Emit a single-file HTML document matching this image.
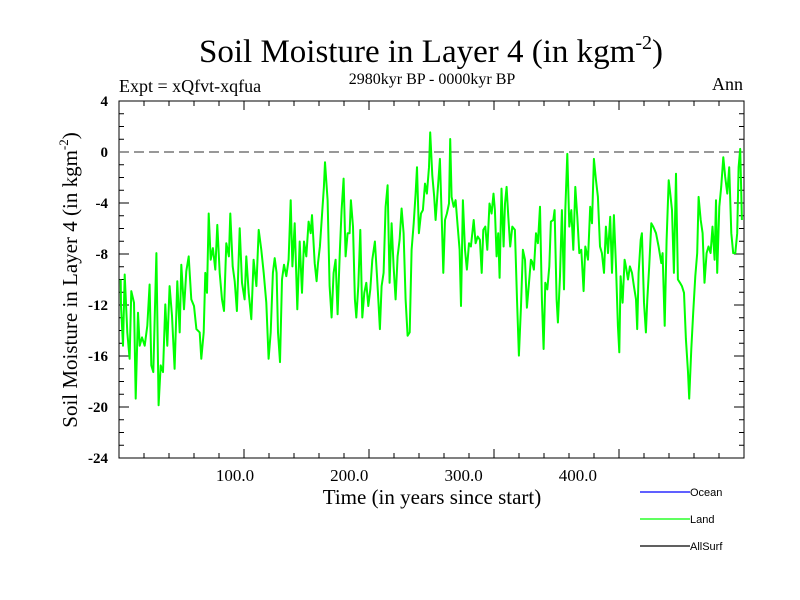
<!DOCTYPE html>
<html><head><meta charset="utf-8"><style>
html,body{margin:0;padding:0;background:#fff;}
svg{display:block;}
text{font-family:"Liberation Serif",serif;fill:#000;}
</style></head><body>
<svg id="chart" width="800" height="600" viewBox="0 0 800 600" xmlns="http://www.w3.org/2000/svg">
<rect x="0" y="0" width="800" height="600" fill="#fff"/>
<text x="431" y="62" font-size="33" text-anchor="middle">Soil Moisture in Layer 4 (in kgm<tspan font-size="20" dy="-13">-2</tspan><tspan dy="13">)</tspan></text>
<text x="119" y="92" font-size="18">Expt = xQfvt-xqfua</text>
<text x="432" y="84" font-size="16" text-anchor="middle">2980kyr BP - 0000kyr BP</text>
<text x="743" y="90" font-size="18" text-anchor="end">Ann</text>
<text transform="translate(77,280) rotate(-90)" font-size="21" text-anchor="middle">Soil Moisture in Layer 4 (in kgm<tspan font-size="13" dy="-9">-2</tspan><tspan dy="9">)</tspan></text>
<text x="432" y="504" font-size="21" text-anchor="middle">Time (in years since start)</text>
<g id="axes"></g>
<g id="series"></g>
<g>
<line x1="640" y1="492" x2="690" y2="492" stroke="#0000ff" stroke-width="1.3"/>
<text x="690" y="496" font-size="11" style="font-family:'Liberation Sans',sans-serif">Ocean</text>
<line x1="640" y1="519" x2="690" y2="519" stroke="#00ff00" stroke-width="1.3"/>
<text x="690" y="523" font-size="11" style="font-family:'Liberation Sans',sans-serif">Land</text>
<line x1="640" y1="546" x2="690" y2="546" stroke="#000" stroke-width="1.3"/>
<text x="690" y="550" font-size="11" style="font-family:'Liberation Sans',sans-serif">AllSurf</text>
</g>
</svg>
<script>
const yTickValues = [4, 0, -4, -8, -12, -16, -20, -24];
const xTickValues = [100, 200, 300, 400];
const xTickLabels = ["100.0", "200.0", "300.0", "400.0"];
const years = [0,0.3,2.0,3.5,5.8,7.8,9.3,11.6,13.1,15.1,16.6,18.6,21.0,23.3,25.3,26.8,28.5,31.2,33.2,35.0,37.0,39.0,40.8,42.8,44.9,47.2,49.5,51.6,53.0,55.4,57.4,59.5,61.8,64.1,66.2,69.1,70.5,72.6,74.0,75.5,77.0,78.7,80.7,82.8,84.5,86.6,88.6,90.4,92.4,94.7,95.9,98.0,99.7,101.7,104.1,106.1,108.4,109.9,112.0,114.3,116.3,118.7,120.7,123.0,125.1,127.4,129.4,131.2,133.2,134.7,136.4,137.6,139.4,141.1,142.9,144.9,146.9,148.7,150.2,152.2,154.5,156.6,158.6,160.4,162.4,164.4,166.2,167.4,169.7,171.4,172.6,174.3,176.1,177.8,
178.7,181.0,182.8,184.5,186.3,188.0,189.8,191.8,193.3,195.0,196.8,198.5,200.3,201.4,203.2,204.9,206.1,207.9,209.6,211.4,213.1,214.9,216.6,218.4,220.1,222.4,224.2,225.4,226.8,228.3,230.0,231.8,233.5,235.3,237.0,238.8,240.5,242.3,244.0,245.8,247.5,249.3,251.0,252.8,254.5,256.3,258.0,259.2,260.9,262.7,264.4,266.2,267.9,269.7,270.8,272.6,274.3,275.5,277.8,279.3,280.8,282.2,283.7,285.4,287.2,288.3,289.5,291.3,293.0,294.8,296.5,297.7,299.4,301.2,302.9,304.7,306.4,308.8,310.5,312.3,314.3,315.8,317.2,319.0,320.7,322.7,324.5,326.2,327.4,328.9,330.3,331.5,333.2,335.0,336.2,337.6,339.1,340.8,342.6,344.9,346.7,348.4,350.2,351.9,353.7,355.4,357.2,358.9,
359.8,361.5,363.3,365.0,366.8,368.5,370.0,371.5,373.2,375.0,376.4,378.5,379.6,381.4,382.5,384.3,386.0,387.8,389.0,390.7,392.5,394.2,396.0,397.7,399.5,401.2,403.0,405.0,406.5,408.8,410.8,412.3,414.0,415.8,417.5,419.3,421.0,422.8,424.5,426.3,428.3,429.8,431.5,433.3,435.0,436.2,437.4,439.1,440.9,442.0,443.8,445.5,447.3,449.0,450.8,451.9,453.1,454.9,456.0,457.8,459.5,460.7,462.4,464.2,465.9,468.3,470.6,473.0,474.1,475.9,477.6,479.4,480.5,482.3,484.0,485.8,487.5,489.3,491.0,492.8,494.5,496.3,497.4,499.2,500.9,502.7,504.4,505.6,507.4,509.1,510.8,512.6,514.3,516.1,517.8,519.6,520.8,521.9,523.7,525.4,527.2,528.9,530.7,532.4,534.2,535.9,537.7,539.4,540.6,542.0,543.5];
const landValues = [-10.0,-12.08,-15.19,-9.61,-14.15,-16.22,-10.91,-11.82,-19.34,-12.60,-15.19,-14.54,-15.19,-13.63,-10.39,-16.74,-17.26,-7.93,-19.86,-16.74,-17.26,-11.95,-15.19,-10.52,-12.85,-17.00,-10.13,-14.15,-8.84,-12.34,-9.35,-8.19,-11.56,-12.08,-13.89,-14.15,-16.22,-14.15,-9.48,-11.04,-4.82,-8.45,-7.54,-9.22,-5.72,-9.48,-11.56,-12.47,-7.15,-8.19,-4.82,-8.97,-10.13,-12.47,-5.98,-10.26,-11.56,-8.19,-11.04,-13.11,-8.45,-10.52,-6.11,-7.67,-9.48,-11.82,-16.22,-14.15,-9.48,-8.32,-9.48,-14.15,-16.48,-10.00,-8.84,-9.74,-8.45,-3.78,-8.97,-5.59,-12.34,-7.02,-11.04,-7.02,-8.19,-5.46,-6.37,-4.95,-8.71,-10.13,-8.71,-7.41,-4.95,-2.74,
-0.80,-3.78,-10.52,-12.98,-9.48,-8.45,-12.72,-7.67,-4.56,-2.09,-8.19,-6.37,-6.37,-3.78,-5.85,-11.56,-12.98,-10.52,-6.11,-12.98,-11.04,-10.26,-12.08,-10.78,-8.45,-7.02,-9.74,-11.56,-13.89,-10.52,-9.48,-4.30,-2.61,-10.26,-5.59,-8.97,-11.56,-8.19,-6.89,-4.43,-6.37,-11.56,-14.41,-14.15,-7.67,-5.59,-3.26,-1.19,-6.37,-4.82,-4.56,-2.48,-3.26,-1.19,1.54,-1.83,-3.52,-5.33,-2.48,-0.54,-5.08,-9.48,-5.33,-4.82,-4.04,1.02,-3.52,-4.30,-3.78,-5.85,-7.67,-12.08,-3.78,-7.67,-9.22,-7.15,-7.41,-5.33,-7.15,-6.63,-6.89,-9.48,-6.11,-5.85,-7.67,-4.04,-4.82,-3.26,-4.56,-8.19,-6.37,-9.87,-2.87,-7.41,-4.04,-2.74,-5.08,-7.41,-5.85,-6.11,-11.56,-15.97,-12.08,-7.67,-8.45,-12.21,-10.26,-8.45,
-8.58,-9.22,-6.37,-7.15,-4.30,-11.56,-15.45,-10.26,-10.78,-8.97,-5.46,-5.33,-4.56,-11.56,-13.37,-9.74,-4.56,-10.78,-4.56,-0.15,-5.85,-4.56,-7.67,-2.74,-5.08,-7.93,-7.67,-10.91,-7.41,-8.45,-4.30,-5.59,-0.54,-2.22,-3.52,-7.41,-7.93,-9.48,-5.85,-7.93,-5.08,-9.48,-4.95,-8.97,-13.63,-15.71,-9.74,-11.82,-8.45,-8.97,-10.00,-8.97,-9.48,-10.52,-11.56,-13.89,-9.48,-6.89,-6.37,-11.82,-14.15,-11.56,-8.97,-5.59,-5.85,-6.37,-7.41,-8.71,-7.93,-13.63,-6.89,-2.22,-3.00,-4.56,-9.48,-1.70,-10.00,-10.26,-10.52,-11.04,-14.67,-17.26,-19.34,-15.45,-12.60,-9.74,-7.93,-3.52,-5.33,-6.37,-10.26,-7.93,-7.41,-7.93,-5.85,-8.45,-3.78,-9.48,-4.30,-2.74,-0.41,-1.96,-3.26,-1.19,-6.37,-7.93,-7.93,-6.37,-1.19,0.24,-5.33];

const NS = "http://www.w3.org/2000/svg";
const L = 119, R = 744, T = 101, B = 458;
const xMin = 0, xMax = 545, yMin = -24, yMax = 4;
function xScale(t){ return 120.7 + t * 1.143; }
function yScale(v){ return T + (yMax - v) * (B - T) / (yMax - yMin); }
function mk(tag, attrs, parent){ const e = document.createElementNS(NS, tag); for (const k in attrs) e.setAttribute(k, attrs[k]); parent.appendChild(e); return e; }

const axes = document.getElementById('axes');
const frame = mk('rect', {x:L, y:T, width:R-L, height:B-T, fill:'none', stroke:'#000', 'stroke-width':1}, axes);


for (let v = yMin; v <= yMax; v += 1) {
  const y = yScale(v);
  const major = (v % 4 === 0);
  const len = major ? 10 : 5;
  const tl = mk('line', {x1:L, y1:y, x2:L+len, y2:y, stroke:'#000', 'stroke-width':1}, axes);
  
  
  const tr = mk('line', {x1:R, y1:y, x2:R-len, y2:y, stroke:'#000', 'stroke-width':1}, axes);
  
  
}
yTickValues.forEach(v => {
  const t = mk('text', {x:108, y:yScale(v)+5, 'font-size':15, 'font-weight':'bold', 'text-anchor':'end'}, axes);
  t.textContent = String(v);
  
  
});
for (let i = 1; i * 25 + L < R; i++) {
  const x = L + i * 25;
  const len = (i % 5 === 0) ? 9 : 5;
  const tb = mk('line', {x1:x, y1:B, x2:x, y2:B-len, stroke:'#000', 'stroke-width':1}, axes);
  
  
  const tt = mk('line', {x1:x, y1:T, x2:x, y2:T+len, stroke:'#000', 'stroke-width':1}, axes);
  
  
}
xTickValues.forEach((v, i) => {
  const t = mk('text', {x:xScale(v), y:481, 'font-size':17, 'text-anchor':'middle'}, axes);
  t.textContent = xTickLabels[i];
  
  
});
const zero = mk('line', {x1:L, y1:yScale(0), x2:R, y2:yScale(0), stroke:'#777', 'stroke-width':1.5, 'stroke-dasharray':'10,5'}, axes);



const series = document.getElementById('series');
const n = Math.min(years.length, landValues.length);
let d = '';
for (let i = 0; i < n; i++) d += (i ? 'L' : 'M') + xScale(years[i]).toFixed(1) + ',' + yScale(landValues[i]).toFixed(1);
const path = mk('path', {d:d, fill:'none', stroke:'#00ff00', 'stroke-width':2, 'stroke-linejoin':'round'}, series);


</script>
</body></html>
